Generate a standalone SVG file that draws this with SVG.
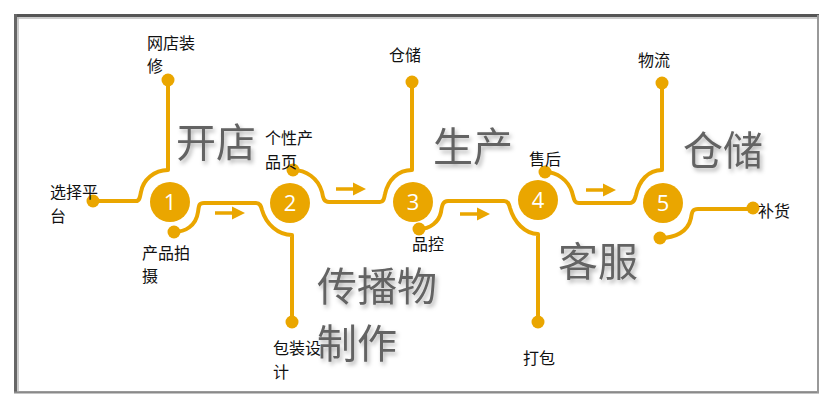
<svg xmlns="http://www.w3.org/2000/svg" width="834" height="408" viewBox="0 0 834 408">
<style>
.trk{fill:none;stroke:#EAA600;stroke-width:4;stroke-linejoin:round}
.dot{fill:#EAA600}
.step circle{fill:#EAA600}
.num{font-family:"Open Sans","Liberation Sans",sans-serif;font-size:22px;fill:#fff;text-anchor:middle}
.sm{font-family:"Noto Sans CJK SC",sans-serif;font-size:16px;fill:#111}
.big{font-family:"Noto Sans CJK SC",sans-serif;font-size:40px;fill:#646464;filter:url(#sh)}
.arr line{stroke:#EAA600;stroke-width:3.5}
.arr path{fill:#EAA600}
</style>
<defs>
<filter id="sh" x="-20%" y="-20%" width="140%" height="150%">
<feDropShadow dx="2" dy="3" stdDeviation="2" flood-color="#000" flood-opacity="0.3"/>
</filter>
</defs>
<rect width="834" height="408" fill="#fff"/>
<g id="frame">
<rect x="15" y="15" width="803" height="377" fill="#fff" stroke="#a8a8a8" stroke-width="2"/>
<path d="M14,15.5 H819" stroke="#555" stroke-width="3" fill="none"/>
<path d="M16,18 H818" stroke="#bbb" stroke-width="1.5" fill="none"/>
<path d="M15.5,14 V393" stroke="#666" stroke-width="3" fill="none"/>
<path d="M18,17 V392" stroke="#bbb" stroke-width="1.5" fill="none"/>
<path d="M14,392.5 H819" stroke="#8a8a8a" stroke-width="2" fill="none"/>
<path d="M818,15 V393" stroke="#999" stroke-width="2" fill="none"/>
</g>
<g id="connectors">
<path class="trk" d="M93,201 H136 C140,201 140,196 141,192 C143,180 154,170 168,170 V80"/>
<path class="trk" d="M174,232 C185,232 196,226 198,212 C199,205 199,203 204,203 H256 C260,203 261,206 262,210 C266,224 278,235 292,235 V322"/>
<path class="trk" d="M293,170 C306,170 318,178 322,192 C323,198 324,202 329,202 H380 C384,202 384,198 385,194 C388,180 398,170 412,170 V82"/>
<path class="trk" d="M419,229 C430,229 439,222 441,212 C442,205 443,201 448,201 H504 C508,201 509,204 510,208 C514,222 525,234 538,234 V322"/>
<path class="trk" d="M545,172 C557,172 568,180 572,192 C574,199 574,203 579,203 H630 C634,203 635,199 636,195 C639,181 648,170 662,170 V83"/>
<path class="trk" d="M660,238 C675,238 688,232 691,218 C692,211 693,209 698,209 H753"/>
<g class="arr"><line x1="215" y1="213" x2="234" y2="213"/><path d="M232,206.5 L245,213 L232,219.5 Z"/></g>
<g class="arr"><line x1="336" y1="189" x2="355" y2="189"/><path d="M353,182.5 L366,189 L353,195.5 Z"/></g>
<g class="arr"><line x1="460" y1="214" x2="479" y2="214"/><path d="M477,207.5 L490,214 L477,220.5 Z"/></g>
<g class="arr"><line x1="586" y1="190" x2="605" y2="190"/><path d="M603,183.5 L616,190 L603,196.5 Z"/></g>
</g>
<g id="step1" class="step"><circle cx="170" cy="202" r="20"/><text class="num" x="170" y="210">1</text></g>
<g id="step2" class="step"><circle cx="290" cy="203" r="20"/><text class="num" x="290" y="211">2</text></g>
<g id="step3" class="step"><circle cx="413" cy="202" r="20"/><text class="num" x="413" y="210">3</text></g>
<g id="step4" class="step"><circle cx="538" cy="200" r="20"/><text class="num" x="538" y="208">4</text></g>
<g id="step5" class="step"><circle cx="663" cy="203" r="20"/><text class="num" x="663" y="211">5</text></g>
<g id="n-xuanze"><circle class="dot" cx="93" cy="201" r="6.5"/><text class="sm" x="50" y="198">选择平</text><text class="sm" x="50" y="222">台</text></g>
<g id="n-wangdian"><circle class="dot" cx="168" cy="80" r="6.5"/><text class="sm" x="147" y="49">网店装</text><text class="sm" x="147" y="72">修</text></g>
<g id="n-paishe"><circle class="dot" cx="174" cy="232" r="6.5"/><text class="sm" x="142" y="259">产品拍</text><text class="sm" x="142" y="282">摄</text></g>
<g id="n-baozhuang"><circle class="dot" cx="292" cy="322" r="6.5"/><text class="sm" x="273" y="354">包装设</text><text class="sm" x="273" y="378">计</text></g>
<g id="n-gexing"><circle class="dot" cx="293" cy="170" r="6.5"/><text class="sm" x="265" y="144">个性产</text><text class="sm" x="265" y="168">品页</text></g>
<g id="n-cangchu"><circle class="dot" cx="412" cy="82" r="6.5"/><text class="sm" x="389" y="61">仓储</text></g>
<g id="n-pinkong"><circle class="dot" cx="419" cy="229" r="6.5"/><text class="sm" x="412" y="250">品控</text></g>
<g id="n-dabao"><circle class="dot" cx="538" cy="322" r="6.5"/><text class="sm" x="523" y="364">打包</text></g>
<g id="n-shouhou"><circle class="dot" cx="545" cy="172" r="6.5"/><text class="sm" x="529" y="165">售后</text></g>
<g id="n-wuliu"><circle class="dot" cx="662" cy="83" r="6.5"/><text class="sm" x="638" y="66">物流</text></g>
<g id="n-buhuo"><circle class="dot" cx="660" cy="238" r="6.5"/><circle class="dot" cx="753" cy="208" r="6.5"/><text class="sm" x="758" y="217">补货</text></g>
<g id="t-kaidian"><text class="big" x="176" y="157">开店</text></g>
<g id="t-shengchan"><text class="big" x="433" y="161">生产</text></g>
<g id="t-cangchu"><text class="big" x="683" y="165">仓储</text></g>
<g id="t-kefu"><text class="big" x="558" y="276">客服</text></g>
<g id="t-chuanbo"><text class="big" x="317" y="301">传播物</text><text class="big" x="317" y="358">制作</text></g>
</svg>
